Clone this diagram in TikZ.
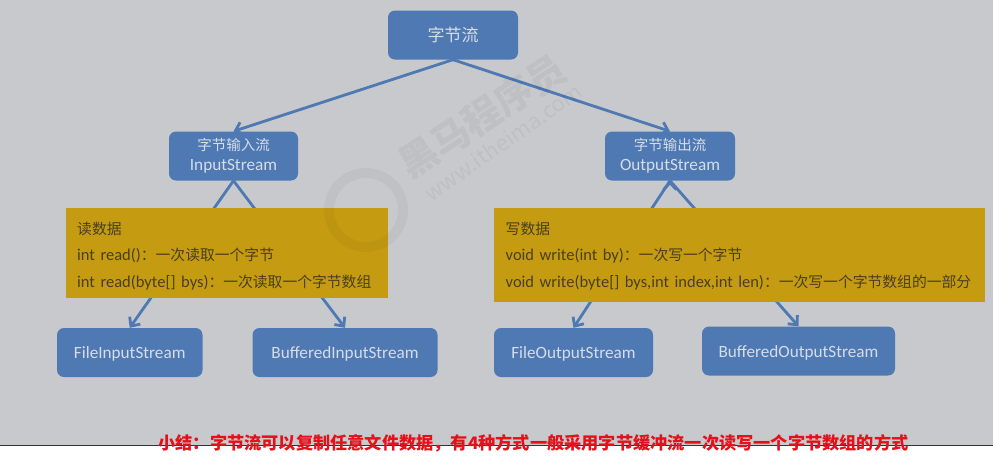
\documentclass[tikz,border=0pt]{standalone}
\usepackage{fontspec}
\setmainfont{Carlito}
\newfontfamily\cjk{Noto Sans CJK SC}
\usetikzlibrary{arrows.meta,positioning}
\definecolor{bgGray}{HTML}{C8C9CD}
\definecolor{boxBlue}{HTML}{4E79B2}
\definecolor{boxGold}{HTML}{C59B12}
\definecolor{txtDark}{HTML}{4A3F1C}
\definecolor{txtLight}{HTML}{D6DCE8}
\definecolor{redTxt}{HTML}{E4101A}
\newcommand{\zhgold}{\cjk\fontsize{14.8}{26.5}\selectfont}
\tikzset{
  blue box/.style={fill=boxBlue,rounded corners=7pt,inner sep=0pt,minimum height=49pt,
    text=txtLight,align=center,font=\fontsize{17.2}{20}\selectfont},
  low text/.style={text height=15pt,text depth=3pt},
  gold box/.style={fill=boxGold,inner xsep=11.5pt,inner ysep=0pt,anchor=north west,
    text=txtDark,align=left,text height=26pt,font=\fontsize{16.5}{26.5}\selectfont},
  link/.style={draw=boxBlue,line width=2.8pt},
  mark text/.style={text=black,opacity=.045}
}
\begin{document}
\begin{tikzpicture}[x=1pt,y=-1pt]
\useasboundingbox (0,0) rectangle (993,464);
\fill[bgGray] (0,0) rectangle (993,445);
\coordinate (lineL) at (0,445.5);
\coordinate (lineR) at (993,445.5);
\draw[line width=1pt,black!80] (lineL) -- (lineR);
% tree
\node (root) [blue box,minimum width=130pt] at (453,35) {\cjk\fontsize{17}{20}\selectfont 字节流};
\node (inS) [blue box,minimum width=129pt] at (233.5,156) {{\cjk\fontsize{14.5}{20}\selectfont 字节输入流}\\InputStream};
\node (outS) [blue box,minimum width=130pt] at (670,156) {{\cjk\fontsize{14.5}{20}\selectfont 字节输出流}\\OutputStream};
\node (fileIn) [blue box,low text,minimum width=145.5pt] at (129.75,352.5) {FileInputStream};
\node (bufIn) [blue box,low text,minimum width=185pt] at (345,352.5) {BufferedInputStream};
\node (fileOut) [blue box,low text,minimum width=159pt] at (573.5,352.5) {FileOutputStream};
\node (bufOut) [blue box,low text,minimum width=193pt] at (798.5,351) {BufferedOutputStream};
\path[link,-{Straight Barb[length=7pt,width=13pt]}]
(root.south) edge (inS.north)
(root.south) edge (outS.north)
(inS.south) edge (fileIn.north)
(inS.south) edge (bufIn.north)
(outS.south) edge (fileOut.north)
(outS.south) edge (bufOut.north);
% method boxes sit over the links
\node (readBox) [gold box,text width=299pt,text depth=64pt] at (65.5,208)
  {{\zhgold 读数据}\\
   int read(){\zhgold ：一次读取一个字节}\\
   int read(byte[] bys){\zhgold ：一次读取一个字节数组}};
\node (writeBox) [gold box,text width=468pt,text depth=68pt] at (494,208)
  {{\zhgold 写数据}\\
   void write(int by){\zhgold ：一次写一个字节}\\
   void write(byte[] bys,int index,int len){\zhgold ：一次写一个字节数组的一部分}};
% summary
\node (summary) [text=redTxt,font=\cjk\bfseries\fontsize{17.2}{20}\selectfont,inner sep=0pt] at (533.5,443)
  {小结：字节流可以复制任意文件数据，有4种方式一般采用字节缓冲流一次读写一个字节数组的方式};
% watermark
\node (logo) [circle,draw=black,draw opacity=.035,line width=10pt,minimum size=74pt,inner sep=0pt] at (366,210) {};
\node (markName) [mark text,rotate=33,font=\cjk\bfseries\fontsize{38}{40}\selectfont] at (482,116) {黑马程序员};
\node (markUrl) [mark text,rotate=35,font=\cjk\fontsize{22}{24}\selectfont] at (503,142) {www.itheima.com};
\end{tikzpicture}
\end{document}
